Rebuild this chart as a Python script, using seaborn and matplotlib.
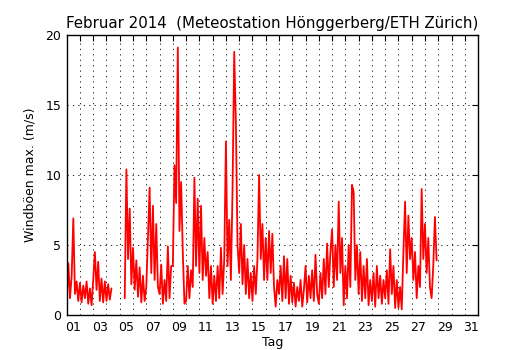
import numpy as np
import pandas as pd
import matplotlib
matplotlib.use("Agg")
import matplotlib.pyplot as plt
import seaborn as sns

nan = np.nan
# 3-hourly maximum gust values (m/s), 8 samples per day, starting Feb 1 00:00
week1 = [0.9, 3.7, 1.2, 2.8, 6.9, 1.5, 2.4, 1.0,
         2.3, 0.9, 2.1, 1.2, 2.4, 0.8, 1.9, 0.7,
         2.5, 4.5, 1.8, 3.8, 1.0, 2.6, 0.9, 2.4,
         1.0, 2.2, 1.1, 1.9, nan, nan, nan, nan,
         nan, nan, nan, 1.2, 10.4, 4.0, 7.6, 2.2,
         4.8, 1.8, 3.9, 1.3, 3.4, 0.9, 2.8, 1.0,
         2.0, 5.5, 9.1, 3.0, 7.8, 2.5, 6.5, 2.0]
week2 = [1.5, 3.6, 0.8, 2.5, 1.0, 4.9, 1.2, 3.5,
         3.5, 10.7, 8.0, 19.1, 6.0, 9.5, 4.5, 0.8,
         1.0, 3.5, 1.2, 3.2, 2.0, 9.8, 3.5, 8.3,
         3.0, 7.8, 2.5, 5.5, 2.8, 4.5, 1.2, 3.5,
         0.8, 2.8, 1.0, 3.5, 1.2, 4.8, 1.5, 4.0,
         12.4, 3.5, 6.8, 2.5, 9.0, 18.8, 13.7, 5.0,
         3.0, 6.5, 2.2, 5.0, 1.5, 4.0, 1.2, 3.0]
week3 = [1.0, 3.5, 1.5, 4.0, 10.0, 4.0, 6.5, 2.5,
         5.5, 2.5, 6.0, 3.0, 5.8, 2.0, 0.6, 2.5,
         1.5, 3.5, 1.0, 4.2, 1.2, 4.0, 0.8, 2.8,
         0.9, 2.3, 0.6, 2.0, 1.0, 2.5, 0.6, 1.8,
         3.5, 0.9, 2.8, 1.2, 3.2, 1.0, 4.3, 1.5,
         0.8, 3.0, 1.2, 4.0, 1.5, 5.1, 2.0, 4.5,
         6.1, 2.0, 5.0, 2.5, 8.1, 3.0, 5.5, 0.7]
week4 = [3.5, 1.2, 5.0, 2.0, 9.3, 8.8, 2.5, 5.0,
         1.5, 4.5, 1.0, 3.5, 1.2, 4.0, 0.7, 2.5,
         1.0, 3.0, 0.6, 3.5, 1.2, 2.8, 0.8, 2.5,
         1.2, 3.2, 0.8, 4.7, 1.5, 3.5, 0.5, 2.5,
         0.5, 2.0, 0.4, 4.5, 8.1, 3.0, 7.1, 4.0,
         5.5, 2.5, 4.5, 1.2, 3.5, 2.0, 9.0, 4.0,
         6.5, 3.0, 5.5, 2.0, 1.2, 3.5, 7.0, 3.9]

day_labels = ["01", "03", "05", "07", "09", "11", "13", "15", "17", "19", "21",
              "23", "25", "27", "29", "31"]
y_ticks = [0, 5, 10, 15, 20]

values = np.array(week1 + week2 + week3 + week4, dtype=float)
days = np.arange(len(values)) / 8.0  # time in days since Feb 1 00:00
df = pd.DataFrame({"Tag": days, "gust": values})
valid = df["gust"].notna()
df["seg"] = (valid != valid.shift()).cumsum()
df = df[valid]

sns.set_style("white")
plt.rcParams["font.family"] = ["DejaVu Sans"]

fig = plt.figure(figsize=(5.3, 3.5), dpi=100)
ax = fig.add_axes([0.1258, 0.1, 0.7762, 0.8])

for _, seg in df.groupby("seg"):
    sns.lineplot(data=seg, x="Tag", y="gust", ax=ax, color="#ff0000",
                 linewidth=1.3, estimator=None, legend=False)

ax.set_xlim(0, 31)
ax.set_ylim(0, 20)

ax.set_xticks(np.arange(1, 31))
ax.set_xticklabels([])
ax.set_xticks(np.arange(0.5, 31, 2), minor=True)
ax.set_xticklabels(day_labels, minor=True, fontsize=9)
ax.set_yticks(y_ticks)
ax.set_yticklabels([str(v) for v in y_ticks], fontsize=9)

ax.tick_params(axis="both", which="major", direction="in", length=4, width=0.8,
               top=True, right=True, color="black", labelcolor="black", pad=4)
ax.tick_params(axis="x", which="minor", length=0, pad=4, labelcolor="black")

ax.grid(True, which="major", color="black", linestyle=(0, (1.5, 5)), linewidth=0.6)
for s in ax.spines.values():
    s.set_visible(True)
    s.set_color("black")
    s.set_linewidth(1.0)

ax.set_xlabel("Tag", fontsize=9, color="black", labelpad=2)
ax.set_ylabel("Windböen max. (m/s)", fontsize=9, color="black", labelpad=6)
ax.set_title("Februar 2014  (Meteostation Hönggerberg/ETH Zürich)", fontsize=10.8,
             color="black", pad=5)

fig.savefig("out.png", dpi=100, facecolor="white")
